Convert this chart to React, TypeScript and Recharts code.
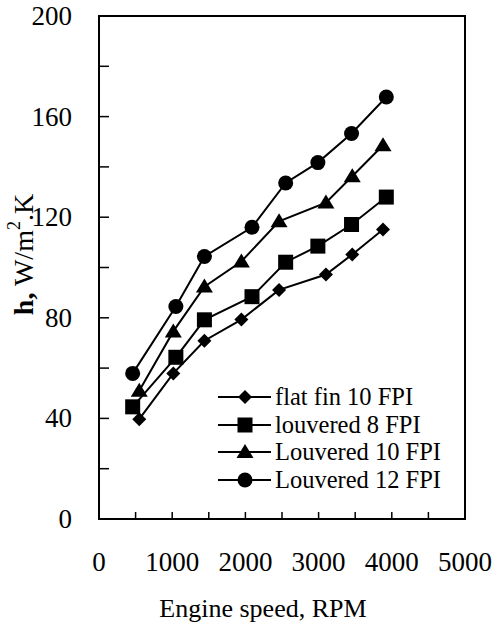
import React from 'react';
import { ComposedChart, Line, XAxis, YAxis, ReferenceArea, Legend, Label } from 'recharts';

// engine speeds (RPM) – two sets of test points
const RPM_A = [550, 1015, 1440, 1945, 2460, 3100, 3460, 3880];
const RPM_B = [460, 1050, 1440, 2090, 2550, 2990, 3450, 3925];

// heat transfer coefficient h, W/m2.K
const FLAT_FIN_10 = [39.7, 57.9, 70.9, 79.3, 91.1, 97.2, 105.2, 115.1];
const LOUVERED_8 = [44.6, 64.3, 79.2, 88.4, 102.1, 108.5, 117.1, 128];
const LOUVERED_10 = [51, 74.6, 92.4, 102.4, 118.4, 125.8, 136.3, 148.6];
const LOUVERED_12 = [57.9, 84.5, 104.4, 116, 133.6, 141.7, 153.3, 167.8];

const X_TICKS = [0, 500, 1000, 1500, 2000, 2500, 3000, 3500, 4000, 4500, 5000];
const Y_TICKS = [0, 20, 40, 60, 80, 100, 120, 140, 160, 180, 200];

type MarkerKind = 'diamond' | 'square' | 'triangle' | 'circle';

const SERIES: { name: string; rpm: number[]; h: number[]; marker: MarkerKind }[] = [
  { name: 'flat fin 10 FPI', rpm: RPM_A, h: FLAT_FIN_10, marker: 'diamond' },
  { name: 'louvered 8 FPI', rpm: RPM_B, h: LOUVERED_8, marker: 'square' },
  { name: 'Louvered 10 FPI', rpm: RPM_A, h: LOUVERED_10, marker: 'triangle' },
  { name: 'Louvered 12 FPI', rpm: RPM_B, h: LOUVERED_12, marker: 'circle' },
];

const FONT = "'Liberation Serif', 'DejaVu Serif', serif";

const Marker = ({ kind, cx, cy }: { kind: MarkerKind; cx: number; cy: number }) => {
  switch (kind) {
    case 'diamond':
      return <polygon points={`${cx},${cy - 7} ${cx + 7},${cy} ${cx},${cy + 7} ${cx - 7},${cy}`} fill="#000" />;
    case 'square':
      return <rect x={cx - 7.5} y={cy - 7.5} width={15} height={15} fill="#000" />;
    case 'triangle':
      return <polygon points={`${cx},${cy - 8} ${cx + 8.5},${cy + 6} ${cx - 8.5},${cy + 6}`} fill="#000" />;
    default:
      return <circle cx={cx} cy={cy} r={7.5} fill="#000" />;
  }
};

const XTick = ({ x, y, payload }: any) => (
  <g>
    <line x1={x} x2={x} y1={y} y2={y - 7} stroke="#000" strokeWidth={1.5} />
    {payload.value % 1000 === 0 && (
      <text x={x} y={y + 43} textAnchor="middle" dominantBaseline="central" style={{ fontFamily: FONT }} fontSize={27} fill="#000">
        {payload.value}
      </text>
    )}
  </g>
);

const YTick = ({ x, y, payload }: any) => (
  <g>
    <line x1={x} x2={x + 10} y1={y} y2={y} stroke="#000" strokeWidth={1.5} />
    {payload.value % 40 === 0 && (
      <text x={x - 27} y={y} textAnchor="end" dominantBaseline="central" style={{ fontFamily: FONT }} fontSize={27} fill="#000">
        {payload.value}
      </text>
    )}
  </g>
);

const YTitle = ({ viewBox }: any) => {
  const cx = viewBox.x + 23;
  const cy = viewBox.y + viewBox.height / 2 - 13;
  return (
    <text
      x={cx}
      y={cy}
      transform={`rotate(-90 ${cx} ${cy})`}
      textAnchor="middle"
      dominantBaseline="central"
      style={{ fontFamily: FONT }}
      fontSize={28}
      fill="#000"
    >
      <tspan fontWeight="bold">h,</tspan>
      <tspan> W/m</tspan>
      <tspan dy={-9} fontSize={18}>2</tspan>
      <tspan dy={9}>.K</tspan>
    </text>
  );
};

const XTitle = ({ viewBox }: any) => (
  <text
    x={viewBox.x + viewBox.width / 2 - 19}
    y={viewBox.y + 89}
    textAnchor="middle"
    dominantBaseline="central"
    style={{ fontFamily: FONT }}
    fontSize={26}
    fill="#000"
  >
    Engine speed, RPM
  </text>
);

const LegendBox = () => (
  <div style={{ fontFamily: FONT, fontSize: 24.5, color: '#000' }}>
    {SERIES.map((s) => (
      <div key={s.name} style={{ display: 'flex', alignItems: 'center', height: 27.7, whiteSpace: 'nowrap' }}>
        <svg width={57} height={20} style={{ flex: 'none' }}>
          <line x1={0} x2={53} y1={10} y2={10} stroke="#000" strokeWidth={2} />
          <Marker kind={s.marker} cx={27} cy={10} />
        </svg>
        <span>{s.name}</span>
      </div>
    ))}
  </div>
);

export default function App() {
  return (
    <div style={{ position: 'absolute', left: 0, top: 0, width: 493, height: 627, background: '#fff' }}>
      <ComposedChart width={493} height={627} margin={{ top: 16, right: 28, left: 0, bottom: 0 }}>
        <XAxis
          dataKey="rpm"
          type="number"
          domain={[0, 5000]}
          ticks={X_TICKS}
          interval={0}
          height={108}
          allowDataOverflow
          axisLine={{ stroke: '#000', strokeWidth: 2 }}
          tickLine={false}
          tickSize={0}
          tickMargin={0}
          tick={(p: any) => <XTick {...p} />}
        >
          <Label content={XTitle} />
        </XAxis>
        <YAxis
          type="number"
          domain={[0, 200]}
          ticks={Y_TICKS}
          interval={0}
          width={99}
          allowDataOverflow
          axisLine={{ stroke: '#000', strokeWidth: 2 }}
          tickLine={false}
          tickSize={0}
          tickMargin={0}
          tick={(p: any) => <YTick {...p} />}
        >
          <Label content={YTitle} />
        </YAxis>
        <ReferenceArea x1={0} x2={5000} y1={0} y2={200} fill="none" stroke="#000" strokeWidth={2} fillOpacity={0} />
        {SERIES.map((s) => (
          <Line
            key={s.name}
            name={s.name}
            data={s.rpm.map((r, i) => ({ rpm: r, h: s.h[i] }))}
            dataKey="h"
            stroke="#000"
            strokeWidth={2}
            isAnimationActive={false}
            activeDot={false}
            dot={(p: any) => <Marker key={`${s.name}-${p.index}`} kind={s.marker} cx={p.cx} cy={p.cy} />}
          />
        ))}
        <Legend
          layout="vertical"
          verticalAlign="middle"
          align="center"
          content={() => <LegendBox />}
          wrapperStyle={{ left: 218, top: 383, width: 240 }}
        />
      </ComposedChart>
    </div>
  );
}
